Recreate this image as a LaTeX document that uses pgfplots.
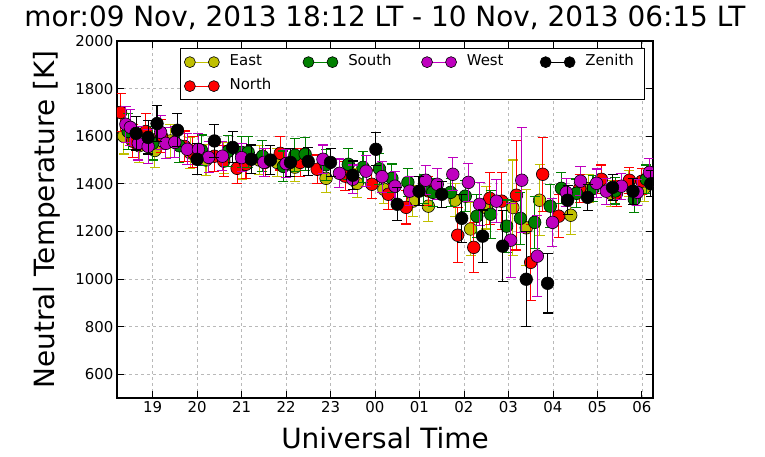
\documentclass[border=0pt]{standalone}
\usepackage{pgfplots}
\usepackage{pgfplotstable}
\pgfplotsset{compat=1.18}
\usepackage{fontspec}
\setmainfont{DejaVu Sans}

\definecolor{cEast}{rgb}{0.75,0.75,0}
\definecolor{cSouth}{rgb}{0,0.5,0}
\definecolor{cWest}{rgb}{0.75,0,0.75}
\definecolor{cNorth}{rgb}{1,0,0}
\definecolor{cZen}{rgb}{0,0,0}

% hour (18 = 18 UT, 24 = 00 UT ...), temperature, error
\pgfplotstableread{
x y e
18.35 1600 75
18.70 1560 70
19.05 1540 70
19.40 1580 70
19.85 1530 65
20.20 1500 65
20.60 1510 65
21.00 1480 60
21.40 1500 60
21.80 1490 60
22.20 1470 60
22.90 1423 60
23.60 1402 60
24.20 1377 60
24.85 1327 65
25.20 1306 65
25.80 1331 70
26.15 1210 110
26.50 1300 90
27.10 1300 200
27.40 1215 160
27.70 1331 150
28.40 1268 80
28.80 1380 60
29.30 1360 55
29.70 1400 55
30.05 1380 55
}\east

\pgfplotstableread{
x y e
18.45 1620 75
19.00 1570 70
19.60 1560 70
20.10 1540 65
20.70 1537 65
21.00 1532 65
21.15 1532 65
21.47 1516 65
21.94 1473 65
22.20 1520 70
22.43 1524 70
22.90 1480 65
23.40 1482 65
23.73 1469 65
24.10 1463 65
24.38 1423 60
24.74 1406 60
25.10 1377 60
25.30 1364 60
25.70 1364 60
26.03 1348 65
26.29 1264 90
26.60 1272 100
26.96 1222 110
27.27 1255 110
27.59 1238 110
27.94 1306 90
28.19 1381 65
28.53 1360 60
28.90 1380 55
29.40 1370 55
29.83 1335 55
30.10 1419 60
}\south

\pgfplotstableread{
x y e
18.40 1650 75
18.50 1637 75
18.68 1570 70
18.90 1557 70
19.18 1616 70
19.30 1570 65
19.50 1574 65
19.78 1545 65
20.03 1545 65
20.26 1511 65
20.57 1516 60
21.00 1510 60
21.50 1490 60
22.00 1485 60
22.83 1503 60
23.20 1444 60
23.50 1419 60
23.80 1453 65
24.16 1430 65
24.45 1390 60
24.78 1369 60
25.14 1415 60
25.40 1398 65
25.75 1440 70
26.10 1406 80
26.35 1314 90
26.73 1327 90
27.05 1163 155
27.30 1415 220
27.65 1096 170
27.99 1238 100
28.30 1364 60
28.62 1411 60
28.98 1402 60
29.20 1369 55
29.54 1390 55
29.90 1364 55
30.17 1448 60
}\west

\pgfplotstableread{
x y e
18.63 1612 70
18.90 1595 70
19.10 1653 75
19.56 1625 70
20.00 1503 65
20.39 1580 70
20.80 1553 65
21.22 1503 60
21.65 1500 60
22.10 1490 60
22.50 1494 60
23.00 1490 60
23.50 1436 60
24.02 1545 70
24.50 1314 70
24.99 1369 60
25.50 1356 55
25.95 1255 100
26.42 1180 110
26.87 1138 150
27.40 999 200
27.88 982 125
28.33 1331 60
28.78 1343 55
29.34 1385 55
29.80 1369 55
30.20 1400 55
}\zenith

\pgfplotstableread{
x y e
18.28 1700 80
18.55 1579 70
18.85 1620 75
19.20 1600 70
19.72 1557 65
19.90 1532 65
20.39 1516 65
20.60 1495 65
20.90 1465 65
21.10 1482 60
21.53 1490 60
21.87 1528 70
22.32 1490 60
22.70 1461 60
23.33 1432 60
23.93 1398 60
24.30 1356 65
24.70 1301 70
25.20 1370 60
25.86 1184 115
26.22 1133 105
26.58 1339 110
26.85 1327 120
27.18 1352 230
27.50 1070 160
27.77 1440 155
28.13 1264 90
28.60 1380 60
29.09 1419 60
29.43 1360 55
29.72 1415 55
30.00 1411 55
}\north

\newcommand{\legimg}[1]{%
  \draw[#1, line width=1bp] (0bp,0bp) -- (24bp,0bp);
  \filldraw[fill=#1, draw=black, line width=0.6bp] (0bp,0bp) circle (5.5bp) (24bp,0bp) circle (5.5bp);}

\pgfplotsset{ser/.style={forget plot, only marks, mark=*, mark size=6.3bp, color=#1,
  mark options={fill=#1, draw=black, line width=0.6bp},
  error bars/.cd, y dir=both, y explicit,
  error mark=-,
  error bar style={color=#1, line width=1.1bp},
  error mark options={rotate=90, color=#1, mark size=5bp, line width=1.1bp}}}

\begin{document}
\begin{tikzpicture}
\begin{axis}[
  name=ax,
  scale only axis,
  width=536bp, height=357bp,
  xmin=18.2, xmax=30.25,
  ymin=500, ymax=2000,
  xtick={19,...,30},
  xticklabels={19,20,21,22,23,00,01,02,03,04,05,06},
  ytick={600,800,...,2000},
  /pgf/number format/assume math mode=true,
  /pgf/number format/set thousands separator={},
  tick label style={font=\fontsize{15}{18}\selectfont},
  tick align=inside,
  major tick length=7bp,
  axis line style={line width=1.2bp},
  tick style={black, line width=0.8bp},
  grid=major,
  grid style={dash pattern=on 3bp off 3bp, gray!55, line width=0.6bp},
  clip marker paths=true,
  title={mor:09 Nov, 2013 18:12 LT - 10 Nov, 2013 06:15 LT},
  title style={at={(0.5,1)}, anchor=base, yshift=9bp, font=\fontsize{28}{34}\selectfont},
  xlabel={Universal Time},
  x label style={at={(axis description cs:0.5,0)}, anchor=base, yshift=-50bp, font=\fontsize{28}{34}\selectfont},
  ylabel={Neutral Temperature [K]},
  y label style={at={(axis description cs:-0.1157,0.5)}, anchor=base, font=\fontsize{28}{34}\selectfont},
  legend columns=4,
  legend style={at={(0.985,0.98)}, anchor=north east, draw=black, line width=1bp, fill=white,
    font=\fontsize{15}{18}\selectfont, inner xsep=4bp, inner ysep=6bp, row sep=9bp,
    nodes={inner sep=0pt, text width=55bp, text height=11bp, text depth=4bp},
    /tikz/every odd column/.append style={column sep=10bp},
    /tikz/every even column/.append style={column sep=18bp}},
]
\addlegendimage{legend image code/.code={\legimg{cEast}}}
\addlegendentry{East}
\addlegendimage{legend image code/.code={\legimg{cSouth}}}
\addlegendentry{South}
\addlegendimage{legend image code/.code={\legimg{cWest}}}
\addlegendentry{West}
\addlegendimage{legend image code/.code={\legimg{cZen}}}
\addlegendentry{Zenith}
\addlegendimage{legend image code/.code={\legimg{cNorth}}}
\addlegendentry{North}

\addplot[ser=cEast] table[x=x, y=y, y error=e] {\east};
\addplot[ser=cNorth] table[x=x, y=y, y error=e] {\north};
\addplot[ser=cSouth] table[x=x, y=y, y error=e] {\south};
\addplot[ser=cWest] table[x=x, y=y, y error=e] {\west};
\addplot[ser=cZen] table[x=x, y=y, y error=e] {\zenith};
\end{axis}
\path (ax.south west) ++(-117bp,-59bp) (ax.north east) ++(112bp,41bp);
\end{tikzpicture}
\end{document}
